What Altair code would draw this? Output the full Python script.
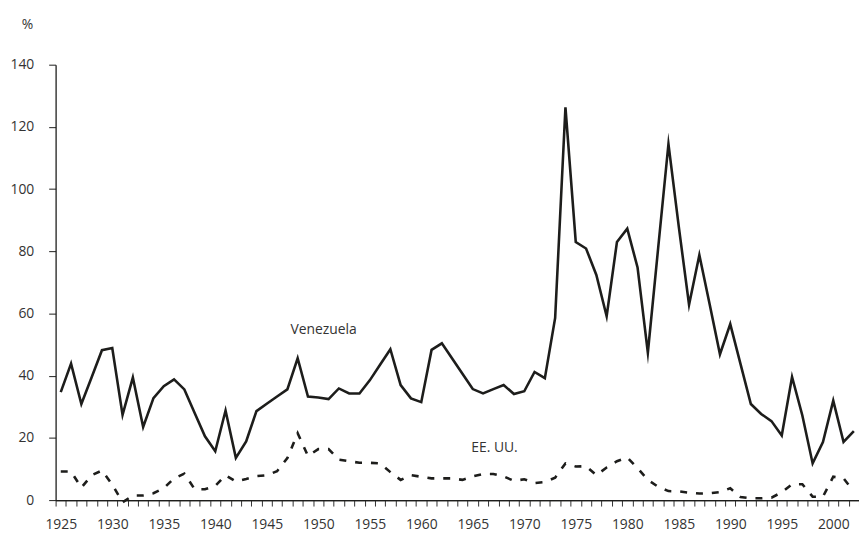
import altair as alt
import pandas as pd

years = list(range(1925, 2003))

venezuela = [34.7, 43.9, 30.9, 39.5, 48.2, 48.9, 27.4, 39.4, 23.5, 32.8,
             36.6, 38.8, 35.6, 28.0, 20.5, 15.7, 28.8, 13.6, 18.9, 28.6,
             31.0, 33.3, 35.6, 45.6, 33.3, 33.0, 32.5, 35.9, 34.3, 34.3,
             38.5, 43.5, 48.5, 37.0, 32.7, 31.5, 48.3, 50.4, 45.5, 40.6,
             35.7, 34.3, 35.7, 37.0, 34.1, 35.0, 41.2, 39.2, 58.6, 126.3,
             83.0, 80.9, 72.4, 59.1, 83.0, 87.3, 74.8, 47.4, 81.0, 114.5,
             88.0, 62.8, 78.8, 63.0, 46.9, 56.6, 43.7, 30.9, 27.7, 25.4,
             20.8, 39.6, 27.2, 11.8, 18.7, 32.0, 18.7, 22.2]

eeuu = [9.2, 9.2, 4.0, 8.0, 9.5, 5.0, -0.7, 1.5, 1.5, 2.2,
        3.8, 7.0, 8.5, 3.5, 3.5, 4.6, 8.0, 6.0, 6.8, 7.7,
        8.0, 9.3, 13.5, 21.5, 14.2, 16.4, 16.4, 13.0, 12.5, 12.0,
        12.0, 11.8, 9.0, 6.5, 8.0, 7.5, 7.0, 7.0, 7.0, 6.5,
        7.6, 8.4, 8.4, 7.6, 6.2, 6.7, 5.5, 5.8, 7.2, 11.8,
        10.8, 10.9, 8.0, 10.5, 12.5, 13.7, 10.3, 6.5, 4.3, 2.9,
        2.8, 2.4, 2.1, 2.2, 2.6, 3.8, 1.0, 0.6, 0.6, 0.8,
        2.5, 5.1, 5.1, 1.1, 1.1, 7.5, 7.0, 2.8]

label_text = ["Venezuela", "EE. UU."]
label_year = [1947.3, 1964.85]
label_value = [53.3, 15.6]

y_ticks = [0, 20, 40, 60, 80, 100, 120, 140]
label_years = list(range(1925, 2001, 5))
tick_positions = [y - 0.5 for y in range(1925, 2004)]

ink = "#1d1d1b"
font = "Open Sans"

df_ve = pd.DataFrame({"year": years, "value": venezuela})
df_us = pd.DataFrame({"year": years, "value": eeuu})
df_lab = pd.DataFrame({"label": label_text, "year": label_year, "value": label_value})

x_scale = alt.Scale(domain=[1924.5, 2002.5], nice=False, zero=False)
y_scale = alt.Scale(domain=[0, 140], nice=False)

x_axis_labels = alt.Axis(
    orient="bottom",
    values=label_years,
    format="d",
    ticks=False,
    labelOverlap=False,
    labelFlush=False,
    labelAngle=0,
    domainColor=ink,
    domainWidth=1.3,
    labelFont=font,
    labelFontSize=14,
    labelColor="#333",
    labelPadding=18,
    grid=False,
    title=None,
)

x_axis_ticks = alt.Axis(
    orient="bottom",
    values=tick_positions,
    labels=False,
    tickSize=6,
    tickColor="#333",
    tickWidth=1,
    domainColor=ink,
    domainWidth=1.3,
    grid=False,
    title=None,
)

y_axis = alt.Axis(
    values=y_ticks,
    tickSize=7,
    tickColor=ink,
    tickWidth=1,
    domainColor=ink,
    domainWidth=1.3,
    labelFont=font,
    labelFontSize=14,
    labelColor="#333",
    labelPadding=15,
    grid=False,
    title="%",
    titleAngle=0,
    titleX=-23,
    titleY=-36,
    titleAlign="right",
    titleBaseline="alphabetic",
    titleFont=font,
    titleFontSize=14,
    titleFontWeight="normal",
    titleColor="#333",
)

ve_line = alt.Chart(df_ve).mark_line(
    color=ink, strokeWidth=2.6, strokeJoin="miter", strokeMiterLimit=10
).encode(
    x=alt.X("year:Q", scale=x_scale, axis=x_axis_labels),
    y=alt.Y("value:Q", scale=y_scale, axis=y_axis),
)

us_line = alt.Chart(df_us).mark_line(
    color=ink, strokeWidth=2.6, strokeDash=[7, 9], strokeCap="butt", strokeJoin="miter"
).encode(
    x=alt.X("year:Q", scale=x_scale, axis=x_axis_ticks),
    y=alt.Y("value:Q", scale=y_scale, axis=y_axis),
)

labels = alt.Chart(df_lab).mark_text(
    align="left", baseline="alphabetic", font=font, fontSize=14, color="#333"
).encode(
    x=alt.X("year:Q", scale=x_scale, axis=None),
    y=alt.Y("value:Q", scale=y_scale, axis=y_axis),
    text="label:N",
)

chart = alt.layer(ve_line, us_line, labels).resolve_axis(
    x="independent"
).properties(
    width=810,
    height=439,
    autosize="none",
    padding={"left": 48, "top": 55, "right": 0, "bottom": 30},
    background="white",
).configure_view(stroke=None)

chart.save("out.html", embed_options={"renderer": "svg", "actions": False})
